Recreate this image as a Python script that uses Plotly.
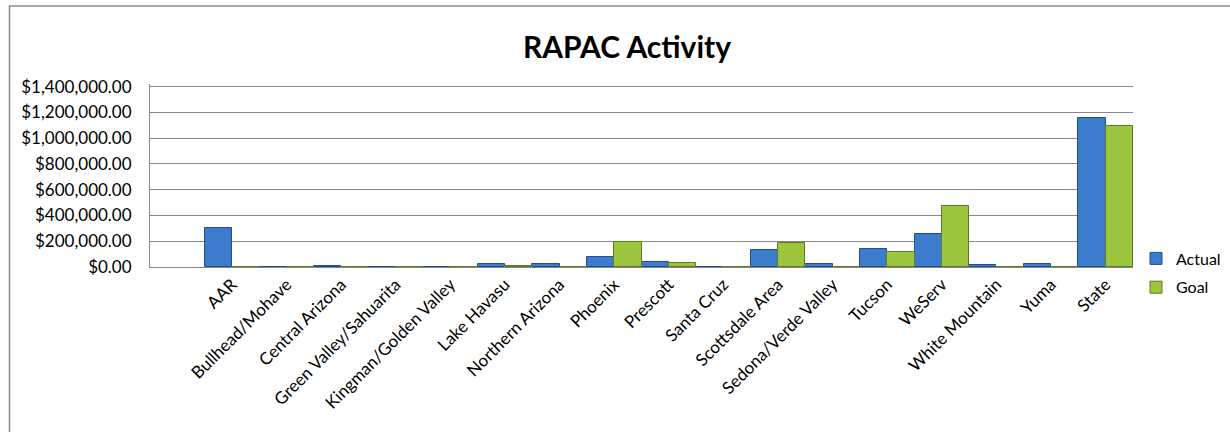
import plotly.graph_objects as go

categories = ["", "AAR", "Bullhead/Mohave", "Central Arizona", "Green Valley/Sahuarita",
              "Kingman/Golden Valley", "Lake Havasu", "Northern Arizona", "Phoenix",
              "Prescott", "Santa Cruz", "Scottsdale Area", "Sedona/Verde Valley",
              "Tucson", "WeServ", "White Mountain", "Yuma", "State"]
actual = [None, 303000, 3000, 6000, 1500, 1500, 25000, 20000, 75000, 42000, 0,
          132000, 24000, 138000, 255000, 14000, 22000, 1157000]
goal = [None, 0, 1500, 1000, 500, 500, 4000, 2000, 197000, 28000, 0,
        188000, 2000, 117000, 475000, 0, 3000, 1097000]
y_ticks = [0, 200000, 400000, 600000, 800000, 1000000, 1200000, 1400000]
y_tick_labels = ["$0.00", "$200,000.00", "$400,000.00", "$600,000.00", "$800,000.00",
                 "$1,000,000.00", "$1,200,000.00", "$1,400,000.00"]

FONT = "Lato"

fig = go.Figure()
fig.add_trace(go.Bar(x=categories, y=actual, name="Actual", legendgroup="a",
                     marker=dict(color="#3D7CCC", line=dict(color="#1F4F8F", width=1))))
fig.add_trace(go.Bar(x=categories, y=goal, name="Goal", legendgroup="g",
                     marker=dict(color="#9CC63E", line=dict(color="#5E7D22", width=1))))

# page body margin removed via post_script
# screen coords: plot x 150..1133; $0 at y=267, $1,400,000 at y=87
W, H = 1230, 432
YMAX = 1420000
PX0, PX1, PY1 = 150, 1133, 267
px_per_dollar = 180 / 1400000
PY0 = PY1 - YMAX * px_per_dollar
L, T = PX0, PY0
R, B = W - PX1, H - PY1
pw, ph = PX1 - PX0, PY1 - PY0


def xp(xs):
    return (xs - PX0) / pw


def yp(ys):
    return (PY1 - ys) / ph


fig.update_layout(
    width=W, height=H,
    margin=dict(l=L, r=R, t=T, b=B, autoexpand=False),
    paper_bgcolor="white", plot_bgcolor="white",
    barmode="group", bargap=0, bargroupgap=0,
    font=dict(family=FONT, color="#000000", size=17),
    title=dict(text="<b>RAPAC Activity</b>", x=xp(627), xref="paper",
               xanchor="center", y=1 - 47 / H, yanchor="middle",
               font=dict(size=30, family=FONT)),
    showlegend=True,
    legend=dict(xref="container", yref="container", x=1136 / W, xanchor="left",
                y=1 - 273 / H, yanchor="middle",
                font=dict(size=16, family=FONT),
                tracegroupgap=5, bgcolor="rgba(0,0,0,0)", itemwidth=30),
    xaxis=dict(type="category", tickangle=-45, showgrid=False, showline=True,
               linecolor="#868686", linewidth=1, ticks="", tickfont=dict(size=17),
               fixedrange=True),
    yaxis=dict(range=[0, YMAX], tickvals=y_ticks, ticktext=y_tick_labels,
               showgrid=True, gridcolor="#878787", gridwidth=1, showline=True,
               linecolor="#868686", linewidth=1, ticks="", zeroline=False,
               tickfont=dict(size=17), ticklabelstandoff=14, fixedrange=True),
    shapes=[dict(type="rect", xref="paper", yref="paper",
                 x0=xp(9.5), x1=xp(1250), y0=yp(450), y1=yp(6.5),
                 line=dict(color="#8C8C8C", width=1.5), fillcolor="rgba(0,0,0,0)",
                 layer="below")],
)

fig.write_html("out.html", config={"displayModeBar": False},
               post_script="document.body.style.margin='0';")
